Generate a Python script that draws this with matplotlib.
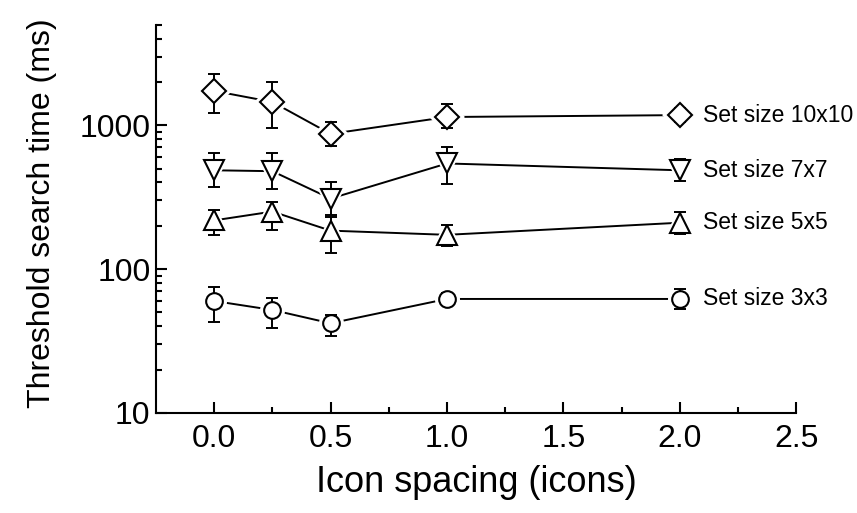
import numpy as np
import matplotlib.pyplot as plt
from matplotlib.ticker import LogLocator, NullFormatter, FixedLocator, FixedFormatter

plt.rcParams['font.family'] = ['Liberation Sans', 'DejaVu Sans']

spacing = [0.0, 0.25, 0.5, 1.0, 2.0]

# Mittelwerte und Fehlergrenzen (obere / untere Enden der Fehlerbalken)
t_10x10 = [1730, 1450, 870, 1140, 1175]
hi_10x10 = [2270, 2000, 1050, 1400, 1320]
lo_10x10 = [1210, 955, 715, 955, 1050]

t_7x7 = [486, 479, 309, 542, 486]
hi_7x7 = [637, 637, 406, 700, 580]
lo_7x7 = [374, 362, 239, 393, 407]

t_5x5 = [218, 251, 185, 173, 210]
hi_5x5 = [259, 294, 231, 203, 251]
lo_5x5 = [173, 188, 129, 145, 176]

t_3x3 = [60, 52, 42, 62, 62]
hi_3x3 = [75, 63, 48, 68, 73]
lo_3x3 = [43, 39, 34, 56, 53]

labels = ['Set size 10x10', 'Set size 7x7', 'Set size 5x5', 'Set size 3x3']
markers = ['D', 'v', '^', 'o']
sizes = [12.5, 14, 14, 12]

fig = plt.figure(figsize=(8.57, 5.13), dpi=100)
ax = fig.add_axes([0.182, 0.195, 0.747, 0.757])

serien = [(t_10x10, hi_10x10, lo_10x10),
          (t_7x7, hi_7x7, lo_7x7),
          (t_5x5, hi_5x5, lo_5x5),
          (t_3x3, hi_3x3, lo_3x3)]

for (t, hi, lo), lab, m, ms in zip(serien, labels, markers, sizes):
    t = np.array(t)
    err = [t - np.array(lo), np.array(hi) - t]
    ax.plot(spacing, t, color='black', linewidth=1.4, zorder=1)
    # weisser Rand -> Luecke zwischen Linie und Symbol
    ax.plot(spacing, t, linestyle='none', marker=m, markersize=ms + 3,
            markerfacecolor='white', markeredgecolor='white', markeredgewidth=3, zorder=2)
    ax.errorbar(spacing, t, yerr=err, fmt='none', ecolor='black', elinewidth=1.4,
                capsize=4.5, capthick=1.4, zorder=3)
    ax.plot(spacing, t, linestyle='none', marker=m, markersize=ms,
            markerfacecolor='white', markeredgecolor='black', markeredgewidth=1.5, zorder=4)
    ax.annotate(lab, xy=(spacing[-1], t[-1]), xytext=(17, 0), textcoords='offset points',
                va='center', ha='left', fontsize=16.5)

ax.set_yscale('log')
ax.set_ylim(10, 5000)
ax.set_xlim(-0.25, 2.5)

ax.yaxis.set_major_locator(FixedLocator([10, 100, 1000]))
ax.yaxis.set_major_formatter(FixedFormatter(['10', '100', '1000']))
ax.yaxis.set_minor_locator(LogLocator(base=10, subs=np.arange(2, 10)))
ax.yaxis.set_minor_formatter(NullFormatter())

ax.set_xticks([0.0, 0.5, 1.0, 1.5, 2.0, 2.5])
ax.set_xticklabels(['0.0', '0.5', '1.0', '1.5', '2.0', '2.5'])
ax.set_xticks(np.arange(0.25, 2.5, 0.5), minor=True)

ax.spines['top'].set_visible(False)
ax.spines['right'].set_visible(False)
for s in ['left', 'bottom']:
    ax.spines[s].set_linewidth(1.5)

ax.tick_params(which='major', direction='in', length=8, width=1.5, labelsize=23)
ax.tick_params(axis='x', which='major', pad=8)
ax.tick_params(axis='y', which='major', pad=4)
ax.tick_params(which='minor', direction='in', length=4.5, width=1.5)

ax.set_xlabel('Icon spacing (icons)', fontsize=26, labelpad=8)
ax.set_ylabel('Threshold search time (ms)', fontsize=23)
ax.yaxis.set_label_coords(-0.155, 0.515)

fig.savefig('out.png', dpi=100)
